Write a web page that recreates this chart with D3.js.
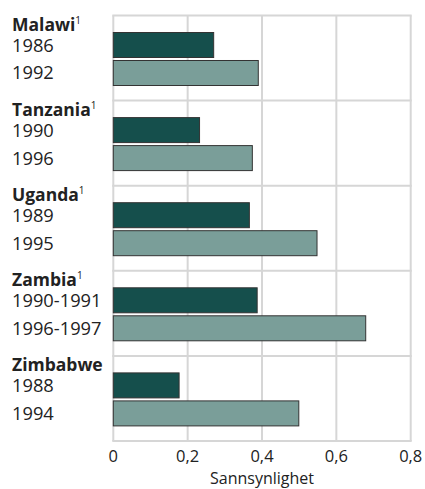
<!DOCTYPE html>
<html>
<head>
<meta charset="utf-8">
<script src="https://cdn.jsdelivr.net/npm/d3@7"></script>
<style>
  body { margin: 0; background: #fff; }
  text { font-family: 'Open Sans', sans-serif; fill: #222; }
</style>
</head>
<body>
<div id="chart"></div>
<script>
// data
const countries = ['Malawi', 'Tanzania', 'Uganda', 'Zambia', 'Zimbabwe'];
const footnote = [true, true, true, true, false];
const yearsFirst = ['1986', '1990', '1989', '1990-1991', '1988'];
const yearsSecond = ['1992', '1996', '1995', '1996-1997', '1994'];
const valuesFirst = [0.270, 0.232, 0.366, 0.387, 0.177];
const valuesSecond = [0.390, 0.374, 0.548, 0.679, 0.499];
const ticks = [0, 0.2, 0.4, 0.6, 0.8];
const axisTitle = 'Sannsynlighet';

const width = 425, height = 489;
const mLeft = 113.3, mRight = 410.7, mTop = 15.5, mBottom = 441;
const darkColor = '#154f4c', lightColor = '#7a9e99', gridColor = '#d6d6d6';

const rows = countries.map((c, i) => ({
    country: c, sup: footnote[i],
    bars: [
        { key: 0, year: yearsFirst[i], value: valuesFirst[i] },
        { key: 1, year: yearsSecond[i], value: valuesSecond[i] }
    ]
}));

const svg = d3.select('#chart').append('svg')
    .attr('width', width)
    .attr('height', height);

const x = d3.scaleLinear().domain([0, 0.8]).range([mLeft, mRight]);
const yGroup = d3.scaleBand().domain(countries).range([mTop, mBottom]);
const yInner = d3.scaleBand().domain([0, 1]).range([17, 70]).paddingInner(0.107).paddingOuter(0);

// grid: vertical lines
svg.append('g').selectAll('line')
    .data(ticks)
    .join('line')
    .attr('x1', d => x(d)).attr('x2', d => x(d))
    .attr('y1', mTop).attr('y2', mBottom)
    .attr('stroke', gridColor).attr('stroke-width', 2);

// grid: horizontal lines between groups
const hLines = countries.map(c => yGroup(c)).concat([mBottom]);
svg.append('g').selectAll('line')
    .data(hLines)
    .join('line')
    .attr('x1', mLeft - 1).attr('x2', mRight + 1)
    .attr('y1', d => d).attr('y2', d => d)
    .attr('stroke', gridColor).attr('stroke-width', 2);

const groups = svg.append('g').selectAll('g')
    .data(rows)
    .join('g')
    .attr('transform', d => 'translate(0,' + yGroup(d.country) + ')');

groups.selectAll('rect')
    .data(d => d.bars)
    .join('rect')
    .attr('x', x(0))
    .attr('y', d => yInner(d.key))
    .attr('width', d => x(d.value) - x(0))
    .attr('height', yInner.bandwidth())
    .attr('fill', d => d.key === 0 ? darkColor : lightColor)
    .attr('stroke', '#333')
    .attr('stroke-width', 1);

// country labels
const names = groups.append('text')
    .attr('x', 12)
    .attr('y', 15.5)
    .style('font-size', '17.5px')
    .style('font-weight', 'bold');
names.append('tspan').text(d => d.country);
names.filter(d => d.sup).append('tspan')
    .attr('dy', -7)
    .style('font-size', '10px')
    .style('font-weight', 'normal')
    .text('1');

// year labels
groups.selectAll('text.year')
    .data(d => d.bars)
    .join('text')
    .attr('class', 'year')
    .attr('x', 12)
    .attr('y', d => yInner(d.key) + yInner.bandwidth() / 2 + 6.5)
    .style('font-size', '18.3px')
    .text(d => d.year);

// x axis labels
const fmt = d3.format('.1f');
svg.append('g').selectAll('text')
    .data(ticks)
    .join('text')
    .attr('x', d => x(d))
    .attr('y', 462)
    .attr('text-anchor', 'middle')
    .style('font-size', '16.5px')
    .text(d => d === 0 ? '0' : fmt(d).replace('.', ','));

svg.append('text')
    .attr('x', (mLeft + mRight) / 2)
    .attr('y', 484)
    .attr('text-anchor', 'middle')
    .style('font-size', '16px')
    .text(axisTitle);
</script>
</body>
</html>
